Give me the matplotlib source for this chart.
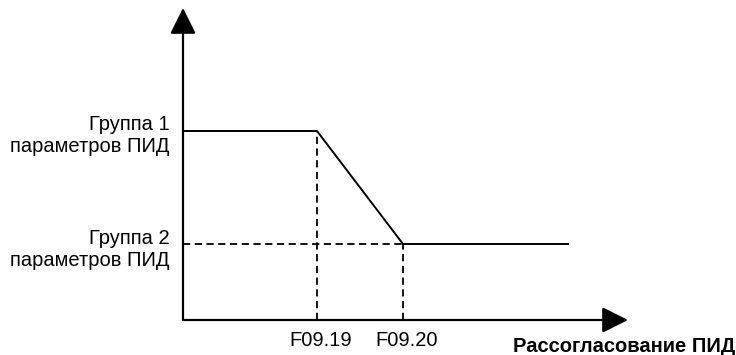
import matplotlib.pyplot as plt

plt.rcParams['font.family'] = ['Liberation Sans', 'DejaVu Sans']

# PID parameter switching curve (pixel-like units)
x_points = [0, 134, 220, 385]
y_points = [189, 189, 76, 76]
group_labels = ["Группа 1\nпараметров ПИД", "Группа 2\nпараметров ПИД"]
tick_labels = ["F09.19", "F09.20"]
x_label = "Рассогласование ПИД"

fig = plt.figure(figsize=(7.36, 3.55), dpi=100)
ax = fig.add_axes([183 / 736, 35 / 355, 445 / 736, 312 / 355])
ax.set_xlim(0, 445)
ax.set_ylim(0, 312)
ax.axis("off")

# axes with arrow heads
arrow = dict(arrowstyle="-|>,head_length=0.8,head_width=0.4", mutation_scale=20,
             lw=1.6, color="black", shrinkA=0, shrinkB=0)
ax.annotate("", xy=(445, 0), xytext=(0, 0), arrowprops=arrow, annotation_clip=False)
ax.annotate("", xy=(0, 312), xytext=(0, 0), arrowprops=arrow, annotation_clip=False)

# main curve
ax.plot(x_points, y_points, color="black", lw=1.4, clip_on=False)

# dashed guides
dash = dict(color="black", lw=1.3, linestyle=(0, (4, 2.5)), clip_on=False)
ax.plot([x_points[1], x_points[1]], [0, y_points[1]], **dash)
ax.plot([x_points[2], x_points[2]], [0, y_points[2]], **dash)
ax.plot([0, x_points[2]], [y_points[2], y_points[2]], **dash)

# labels
for lab, yv in zip(group_labels, [y_points[0], y_points[2]]):
    ax.text(-13, yv - 5, lab, ha="right", va="center", multialignment="right",
            fontsize=14.5, linespacing=1.2)
for lab, xv in zip(tick_labels, x_points[1:3]):
    ax.text(xv + 4, -21, lab, ha="center", va="center", fontsize=14.5)
ax.text(552, -26, x_label, ha="right", va="center", fontsize=14.5, fontweight="bold")

fig.savefig("out.png", dpi=100)
